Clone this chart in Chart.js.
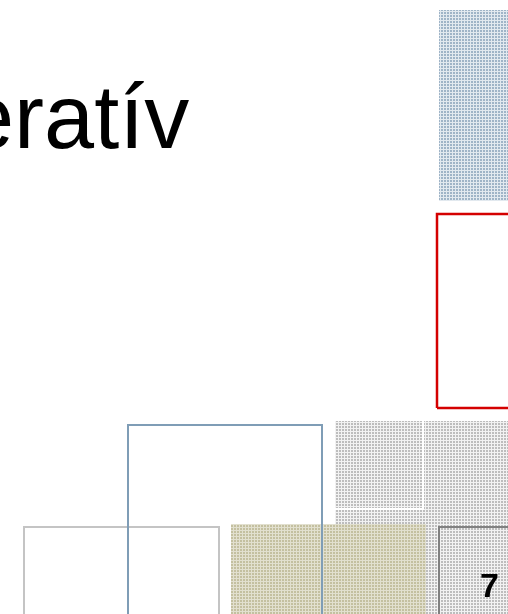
<!DOCTYPE html>
<html>
<head>
<meta charset="utf-8">
<script src="https://cdn.jsdelivr.net/npm/chart.js@4"></script>
<style>
  html, body { margin: 0; padding: 0; background: #fff; overflow: hidden; }
  #wrap { position: relative; width: 508px; height: 614px; overflow: hidden; }
  #slide { position: absolute; left: 0; top: 0; }
  #title {
    position: absolute; left: -156px; top: 72px;
    font-family: "Liberation Sans", Arial, sans-serif;
    font-size: 90px; line-height: 90px; color: #000; white-space: nowrap;
  }
  #page {
    position: absolute; left: 480px; top: 568px;
    font-family: "Liberation Sans", Arial, sans-serif;
    font-weight: bold; font-size: 34px; line-height: 34px; color: #000;
  }
</style>
</head>
<body>
<div id="wrap">
  <canvas id="slide" width="508" height="614"></canvas>
  <div id="title">Operatív</div>
  <div id="page">7</div>
</div>
<script>
'use strict';

// *** Data (slide units = px, y grows downward) ***

// filled, patterned blocks
let blockNames = ['blueBlock', 'greyBlock', 'tanBlock'];
let blockLeft = [439, 335, 231];
let blockRight = [520, 520, 426];
let blockTop = [10, 421, 524];
let blockBottom = [201, 620, 620];

// outlined frames
let frameNames = ['redFrame', 'blueFrame', 'greyFrame', 'darkFrame'];
let frameLeft = [437, 128, 24, 439];
let frameRight = [520, 322, 219, 520];
let frameTop = [214, 425, 527, 527];
let frameBottom = [408, 620, 620, 620];

// white seams inside the grey block
let seamX = [423, 423, 335];
let seamY = [421, 509, 509];

// *** Patterns ***

function makePattern(base, line) {
  let tile = document.createElement('canvas');
  tile.width = 3;
  tile.height = 3;
  let t = tile.getContext('2d');
  t.fillStyle = base;
  t.fillRect(0, 0, 3, 3);
  t.fillStyle = line;
  t.fillRect(2, 0, 1, 3);
  t.fillRect(0, 2, 3, 1);
  return t.createPattern(tile, 'repeat');
}

let ctx = document.getElementById('slide');
let blockFills = [
  makePattern('#9fb4c7', '#e2e9ef'),
  makePattern('#bdbdbd', '#f2f2f2'),
  makePattern('#c4c0a0', '#e2e0cf')
];
let frameColors = ['#d40000', '#7f9db6', '#c4c4c4', '#808080'];
let frameWidths = [2.5, 2, 2, 2];

// *** Datasets ***
// higher order is drawn first (further back)

let datasets = [];

let blockOrder = [13, 12, 10];
for (let i = 0; i < blockNames.length; i++) {
  datasets.push({
    label: blockNames[i],
    data: [{ x: blockLeft[i], y: blockTop[i] }, { x: blockRight[i], y: blockTop[i] }],
    showLine: true,
    borderWidth: 0,
    borderColor: 'rgba(0,0,0,0)',
    backgroundColor: blockFills[i],
    fill: { value: blockBottom[i] },
    pointRadius: 0,
    order: blockOrder[i]
  });
}

datasets.push({
  label: 'seam',
  data: seamX.map((x, i) => ({ x: x, y: seamY[i] })),
  showLine: true,
  borderWidth: 2,
  borderColor: '#ffffff',
  fill: false,
  pointRadius: 0,
  order: 11
});

for (let i = 0; i < frameNames.length; i++) {
  datasets.push({
    label: frameNames[i],
    data: [
      { x: frameLeft[i], y: frameBottom[i] },
      { x: frameLeft[i], y: frameTop[i] },
      { x: frameRight[i], y: frameTop[i] },
      { x: frameRight[i], y: frameBottom[i] },
      { x: frameLeft[i], y: frameBottom[i] }
    ],
    showLine: true,
    borderWidth: frameWidths[i],
    borderColor: frameColors[i],
    borderJoinStyle: 'miter',
    fill: false,
    pointRadius: 0,
    order: 1 + i
  });
}

new Chart(ctx, {
  type: 'scatter',
  data: { datasets: datasets },
  options: {
    responsive: false,
    animation: false,
    events: [],
    layout: { padding: 0 },
    plugins: { legend: { display: false }, tooltip: { enabled: false }, title: { display: false } },
    scales: {
      x: { type: 'linear', min: 0, max: 508, display: false },
      y: { type: 'linear', min: 0, max: 614, reverse: true, display: false }
    }
  }
});
</script>
</body>
</html>
